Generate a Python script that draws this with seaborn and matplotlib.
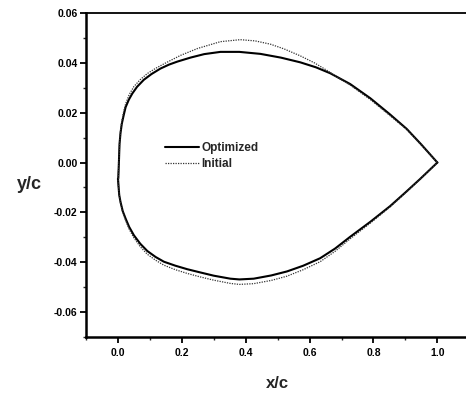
import numpy as np
import pandas as pd
import matplotlib
matplotlib.use("Agg")
import matplotlib.pyplot as plt
import seaborn as sns
from matplotlib.ticker import MultipleLocator

# ---- data ----
opt_upper_x = [0.003, 0.004, 0.005, 0.008, 0.012, 0.018, 0.024, 0.034, 0.045, 0.06, 0.081, 0.105, 0.133, 0.16,
               0.186, 0.227, 0.27, 0.321, 0.38, 0.446, 0.51, 0.571, 0.62, 0.665, 0.727, 0.79, 0.85, 0.904, 0.95, 1.0]
opt_upper_y = [0.0, 0.004, 0.0075, 0.0118, 0.0155, 0.019, 0.0222, 0.0252, 0.0277, 0.0304, 0.0332, 0.0355, 0.0377,
               0.0393, 0.0405, 0.0421, 0.0435, 0.0444, 0.0444, 0.0436, 0.0421, 0.0402, 0.0382, 0.0358, 0.0315,
               0.0258, 0.0195, 0.0135, 0.0072, 0.0]
opt_lower_x = [0.003, 0.001, 0.0, 0.001, 0.004, 0.008, 0.015, 0.024, 0.035, 0.05, 0.07, 0.092, 0.118, 0.144, 0.18,
               0.217, 0.258, 0.30, 0.352, 0.38, 0.425, 0.48, 0.529, 0.58, 0.633, 0.68, 0.727, 0.79, 0.852, 0.90,
               0.946, 1.0]
opt_lower_y = [0.0, -0.003, -0.0065, -0.0098, -0.013, -0.0158, -0.0195, -0.0225, -0.0258, -0.0292, -0.0326,
               -0.0355, -0.0379, -0.0398, -0.0414, -0.0428, -0.0441, -0.0454, -0.0466, -0.0469, -0.0466, -0.0453,
               -0.0437, -0.0414, -0.0384, -0.0345, -0.0298, -0.0238, -0.0175, -0.0120, -0.0066, 0.0]
init_upper_x = [0.003, 0.004, 0.005, 0.008, 0.012, 0.018, 0.024, 0.035, 0.05, 0.07, 0.092, 0.118, 0.144, 0.17,
                0.196, 0.25, 0.321, 0.383, 0.43, 0.477, 0.52, 0.571, 0.615, 0.654, 0.69, 0.727, 0.79, 0.85, 0.904,
                0.95, 1.0]
init_upper_y = [0.0, 0.004, 0.0075, 0.0128, 0.0165, 0.0205, 0.0235, 0.0272, 0.0305, 0.0333, 0.0357, 0.0378,
                0.0396, 0.0413, 0.0430, 0.0458, 0.0485, 0.0493, 0.0488, 0.0475, 0.0456, 0.0428, 0.0400, 0.0370,
                0.0340, 0.0311, 0.0253, 0.0190, 0.0133, 0.0070, 0.0]
init_lower_x = [0.003, 0.001, 0.0, 0.001, 0.004, 0.008, 0.015, 0.024, 0.035, 0.05, 0.07, 0.092, 0.118, 0.144, 0.18,
                0.217, 0.258, 0.30, 0.352, 0.38, 0.425, 0.48, 0.529, 0.58, 0.633, 0.68, 0.727, 0.79, 0.852, 0.90,
                0.946, 1.0]
init_lower_y = [0.0, -0.003, -0.0065, -0.0099, -0.0132, -0.0162, -0.0200, -0.0232, -0.0267, -0.0302, -0.0338,
                -0.0368, -0.0392, -0.0412, -0.0430, -0.0445, -0.0459, -0.0472, -0.0485, -0.0489, -0.0486, -0.0473,
                -0.0456, -0.0430, -0.0398, -0.0356, -0.0306, -0.0243, -0.0178, -0.0122, -0.0067, 0.0]

x_ticks = [0.0, 0.2, 0.4, 0.6, 0.8, 1.0]
x_tick_labels = ["0.0", "0.2", "0.4", "0.6", "0.8", "1.0"]
y_ticks = [-0.06, -0.04, -0.02, 0.00, 0.02, 0.04, 0.06]
y_tick_labels = ["-0.06", "-0.04", "-0.02", "0.00", "0.02", "0.04", "0.06"]

sns.set_style("ticks")
plt.rcParams['font.family'] = ['Liberation Sans', 'DejaVu Sans']

fig = plt.figure(figsize=(4.66, 3.96), dpi=100)
ax = fig.add_axes([86/466, 1 - 337/396, (469.3 - 86)/466, (337 - 13)/396])

# optimized
sns.lineplot(x=opt_upper_x, y=opt_upper_y, sort=False, ax=ax, color="black", lw=1.5, label="Optimized")
sns.lineplot(x=opt_lower_x, y=opt_lower_y, sort=False, ax=ax, color="black", lw=1.5)
# initial
sns.lineplot(x=init_upper_x, y=init_upper_y, sort=False, ax=ax, color="#333333", lw=0.9, ls=(0, (1, 1)), label="Initial")
sns.lineplot(x=init_lower_x, y=init_lower_y, sort=False, ax=ax, color="#333333", lw=0.9, ls=(0, (1, 1)))

ax.set_xlim(-0.1, 1.1)
ax.set_ylim(-0.07, 0.06)
ax.set_xticks(x_ticks)
ax.set_xticklabels(x_tick_labels)
ax.set_yticks(y_ticks)
ax.set_yticklabels(y_tick_labels)
ax.xaxis.set_minor_locator(MultipleLocator(0.1))
ax.yaxis.set_minor_locator(MultipleLocator(0.01))
ax.tick_params(which="major", direction="out", length=4, width=1.3, labelsize=7.5, pad=2, colors="black")
ax.tick_params(which="minor", direction="out", length=2.5, width=1.0)
ax.tick_params(axis="x", which="major", pad=4)
for lab in ax.get_xticklabels() + ax.get_yticklabels():
    lab.set_fontweight("bold")

for s in ["left", "bottom"]:
    ax.spines[s].set_linewidth(1.8)
ax.spines["top"].set_linewidth(1.3)
ax.spines["right"].set_visible(False)
for s in ax.spines.values():
    s.set_color("black")

ax.set_xlabel("")
ax.set_ylabel("")
fig.text(29/466, 1 - 185/396, "y/c", fontsize=13, fontweight="bold", ha="center", va="center")
fig.text(277/466, 1 - 383/396, "x/c", fontsize=12, fontweight="bold", ha="center", va="center")

leg = ax.legend(loc="center left", bbox_to_anchor=(154/466, 1 - 156/396), bbox_transform=fig.transFigure,
                frameon=False, handlelength=2.9, handletextpad=0.2, labelspacing=0.35,
                prop={"weight": "bold", "size": 8.5})

fig.savefig("out.png", dpi=100)
